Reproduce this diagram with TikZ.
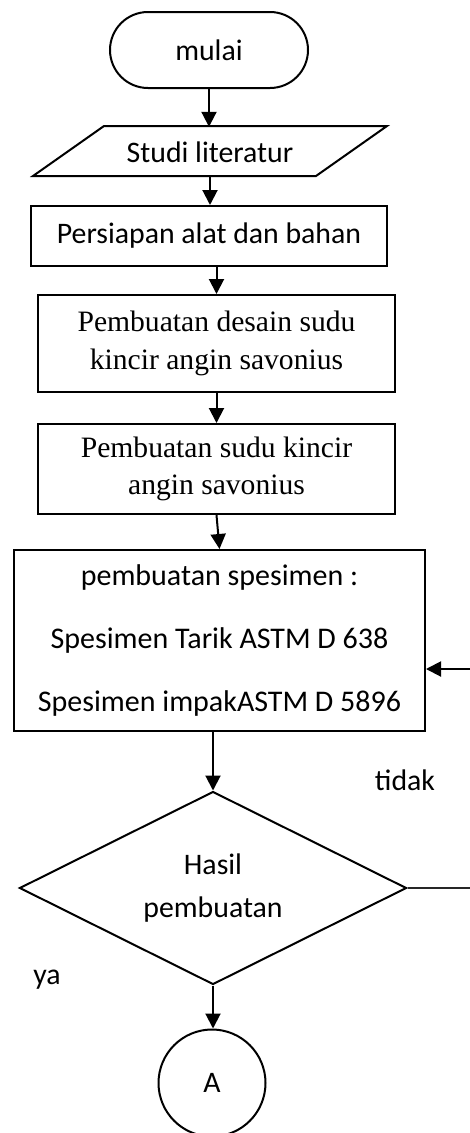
\documentclass[tikz,border=0pt]{standalone}
\usepackage{fontspec}
\setmainfont{Carlito}
\newfontfamily\tnr{Liberation Serif}
\usetikzlibrary{shapes.geometric,arrows.meta}
\begin{document}
\begin{tikzpicture}[x=1pt,y=-1pt,
  every node/.style={font=\fontsize{29.8}{36}\selectfont, inner sep=0pt},
  box/.style={draw, line width=2pt, rectangle, align=center},
  flow/.style={line width=2pt, -{Triangle[length=15pt,width=15pt]}},
  thin/.style={line width=1.2pt, black!85}
]
\useasboundingbox (0,0) rectangle (470,1133);
% start
\node[box, rounded corners=38pt, minimum width=198pt, minimum height=76pt] (mulai) at (209,50) {mulai};
% input/output parallelogram
\draw[line width=2pt] (104,126) -- (387,126) -- (316,176) -- (33,176) -- cycle;
\node[minimum width=200pt, minimum height=50pt] (studi) at (210,152) {Studi literatur};
% processes
\node[box, minimum width=356pt, minimum height=60pt] (persiapan) at (209,236) {Persiapan alat dan bahan};
\node[box, minimum width=357pt, minimum height=97pt, font=\tnr\fontsize{29.6}{38}\selectfont] (desain) at (216.5,343.5) {Pembuatan desain sudu\\kincir angin savonius};
\node[box, minimum width=357pt, minimum height=90pt, font=\tnr\fontsize{29.6}{37}\selectfont] (sudu) at (216.5,469) {Pembuatan sudu kincir\\angin savonius};
\node[box, minimum width=411pt, minimum height=181pt, font=\fontsize{30}{63}\selectfont] (spes) at (219.5,640.5) {pembuatan spesimen :\\Spesimen Tarik ASTM D 638\\Spesimen impakASTM D 5896};
% decision
\node[draw, line width=2pt, diamond, aspect=2, minimum width=387pt, minimum height=193pt, align=center, font=\fontsize{29.8}{43}\selectfont] (dia) at (213,888) {Hasil\\pembuatan};
% connector
\node[draw, line width=2pt, circle, minimum size=107pt] (A) at (212,1083) {A};
% labels
\node (tidak) at (405,780) {tidak};
\node (ya) at (47,980) {ya};
% flows
\draw[flow] (mulai.south) -- (mulai.south |- studi.north);
\draw[flow] (studi.south) -- (studi.south |- persiapan.north);
\draw[flow] (persiapan.south -| desain.north) -- (desain.north);
\draw[flow] (desain.south) -- (sudu.north);
\draw[flow] (sudu.south) -- (spes.north);
\draw[flow] (spes.south -| dia.north) -- (dia.north);
\draw[flow] (dia.south) -- (dia.south |- A.north);
% feedback
\coordinate (fbR) at (470,888);
\coordinate (fbT) at (470,669);
\draw[thin] (dia.east) -- (fbR);
\draw[flow] (fbT) -- (fbT -| spes.east);
\end{tikzpicture}
\end{document}
